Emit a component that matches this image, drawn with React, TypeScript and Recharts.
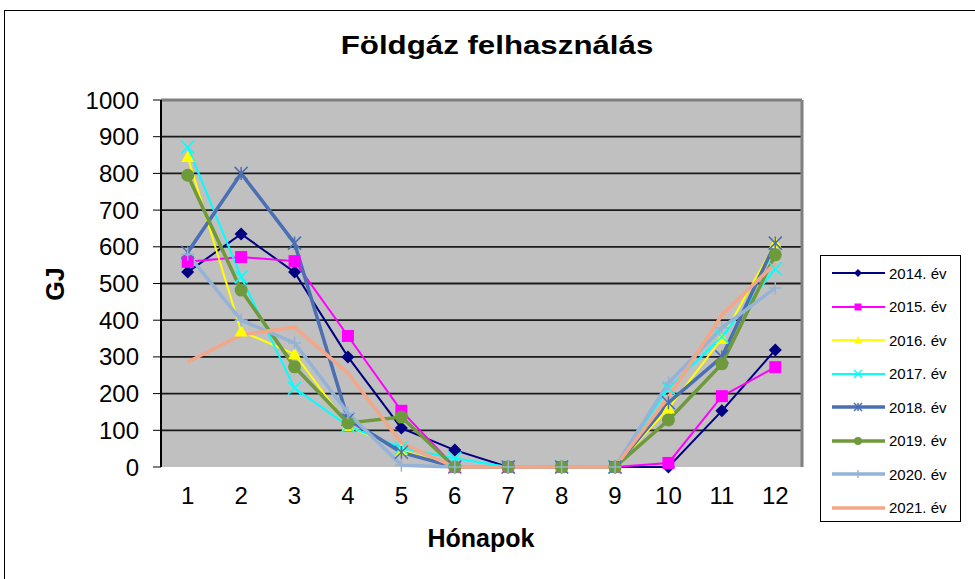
import { LineChart, Line, XAxis, YAxis, CartesianGrid, ReferenceLine } from "recharts"

const months = [1, 2, 3, 4, 5, 6, 7, 8, 9, 10, 11, 12]
const boundaryTicks = [0.5, 1.5, 2.5, 3.5, 4.5, 5.5, 6.5, 7.5, 8.5, 9.5, 10.5, 11.5, 12.5]
const yTicks = [0, 100, 200, 300, 400, 500, 600, 700, 800, 900, 1000]
const gridValues = [100, 200, 300, 400, 500, 600, 700, 800, 900]

const y2014 = [531, 635, 531, 300, 106, 46, 0, 0, 0, 0, 153, 319]
const y2015 = [559, 572, 561, 357, 153, 0, 0, 0, 0, 11, 193, 272]
const y2016 = [845, 370, 308, 112, 46, 0, 0, 0, 0, 160, 350, 610]
const y2017 = [872, 518, 215, 112, 52, 24, 0, 0, 0, 215, 355, 540]
const y2018 = [585, 800, 610, 130, 40, 0, 0, 0, 0, 175, 300, 610]
const y2019 = [795, 482, 273, 120, 136, 0, 0, 0, 0, 128, 281, 578]
const y2020 = [580, 400, 338, 147, 5, 0, 0, 0, 0, 229, 379, 488]
const y2021 = [286, 360, 381, 256, 65, 0, 0, 0, 0, 190, 414, 555]

const series = [
  { key: "y2014", name: "2014. év", values: y2014, color: "#000080", width: 2, marker: "diamond" },
  { key: "y2015", name: "2015. év", values: y2015, color: "#ff00ff", width: 2, marker: "square" },
  { key: "y2016", name: "2016. év", values: y2016, color: "#ffff00", width: 2, marker: "triangle" },
  { key: "y2017", name: "2017. év", values: y2017, color: "#00ffff", width: 2, marker: "x" },
  { key: "y2018", name: "2018. év", values: y2018, color: "#4a6fb3", width: 3.5, marker: "star" },
  { key: "y2019", name: "2019. év", values: y2019, color: "#6e9a3c", width: 3.5, marker: "circle" },
  { key: "y2020", name: "2020. év", values: y2020, color: "#95b3d7", width: 3.5, marker: "plus" },
  { key: "y2021", name: "2021. év", values: y2021, color: "#f4a688", width: 3.5, marker: "none" },
]

const data = months.map((m, i) => {
  const row: Record<string, number> = { month: m }
  series.forEach((s) => {
    row[s.key] = s.values[i]
  })
  return row
})

const FONT = "'Liberation Sans', Arial, sans-serif"

function Marker({ cx, cy, type, color, size = 6.5 }: { cx: number; cy: number; type: string; color: string; size?: number }) {
  const s = size
  switch (type) {
    case "diamond":
      return <polygon points={`${cx},${cy - s} ${cx + s},${cy} ${cx},${cy + s} ${cx - s},${cy}`} fill={color} />
    case "square":
      return <rect x={cx - s + 0.5} y={cy - s + 0.5} width={2 * s - 1} height={2 * s - 1} fill={color} />
    case "triangle":
      return <polygon points={`${cx},${cy - s} ${cx + s},${cy + s * 0.8} ${cx - s},${cy + s * 0.8}`} fill={color} />
    case "x":
      return (
        <g stroke={color} strokeWidth={1.5}>
          <line x1={cx - s} y1={cy - s} x2={cx + s} y2={cy + s} />
          <line x1={cx - s} y1={cy + s} x2={cx + s} y2={cy - s} />
        </g>
      )
    case "star":
      return (
        <g stroke={color} strokeWidth={1.5}>
          <line x1={cx - s} y1={cy - s} x2={cx + s} y2={cy + s} />
          <line x1={cx - s} y1={cy + s} x2={cx + s} y2={cy - s} />
          <line x1={cx} y1={cy - s} x2={cx} y2={cy + s} />
        </g>
      )
    case "circle":
      return <circle cx={cx} cy={cy} r={s} fill={color} />
    case "plus":
      return (
        <g stroke={color} strokeWidth={1.5}>
          <line x1={cx - s} y1={cy} x2={cx + s} y2={cy} />
          <line x1={cx} y1={cy - s} x2={cx} y2={cy + s} />
        </g>
      )
    default:
      return <g />
  }
}

function ChartLegend() {
  return (
    <div
      style={{
        position: "absolute",
        left: 820,
        top: 255,
        width: 141,
        height: 267,
        border: "1px solid #000",
        background: "#fff",
        boxSizing: "border-box",
        fontFamily: FONT,
        fontSize: 15,
        color: "#000",
      }}
    >
      {series.map((s, i) => (
        <div key={s.key} style={{ position: "absolute", left: 9, top: 8 + i * 33.5, height: 18, display: "flex", alignItems: "center" }}>
          <svg width={56} height={18} style={{ display: "block" }}>
            <line x1={2} y1={9} x2={55} y2={9} stroke={s.color} strokeWidth={s.width} />
            <Marker cx={28} cy={9} type={s.marker} color={s.color} size={4} />
          </svg>
          <span style={{ marginLeft: 3, whiteSpace: "nowrap" }}>{s.name}</span>
        </div>
      ))}
    </div>
  )
}

export default function App() {
  return (
    <div style={{ position: "absolute", left: 0, top: 0, width: 975, height: 579, overflow: "hidden", background: "#fff" }}>
      <div
        style={{
          position: "absolute",
          left: 4,
          top: 10,
          width: 1000,
          height: 600,
          borderLeft: "1px solid #000",
          borderTop: "1px solid #000",
        }}
      />
      <div
        style={{
          position: "absolute",
          left: 497,
          top: 45,
          transform: "translate(-50%, -50%) scaleX(1.25)",
          fontFamily: FONT,
          fontWeight: "bold",
          fontSize: 25,
          color: "#000",
          whiteSpace: "nowrap",
        }}
      >
        Földgáz felhasználás
      </div>
      <div style={{ position: "absolute", left: 0, top: 0 }}>
        <LineChart width={975} height={579} data={data} margin={{ top: 100, right: 173, bottom: 82, left: 101 }}>
          <CartesianGrid
            xAxisId="m"
            vertical={false}
            horizontalValues={gridValues}
            fill="#c0c0c0"
            fillOpacity={1}
            stroke="#1a1a1a"
            strokeWidth={1.8}
          />
          <XAxis
            xAxisId="b"
            type="number"
            dataKey="month"
            domain={[0.5, 12.5]}
            ticks={boundaryTicks}
            interval={0}
            height={0}
            tickFormatter={() => ""}
            tickSize={7}
            tickLine={{ stroke: "#000", strokeWidth: 1 }}
            axisLine={{ stroke: "#000", strokeWidth: 2 }}
          />
          <XAxis
            xAxisId="m"
            type="number"
            dataKey="month"
            domain={[0.5, 12.5]}
            ticks={months}
            interval={0}
            height={30}
            axisLine={false}
            tickLine={false}
            tickMargin={14}
            tick={{ fill: "#000", fontSize: 24, fontFamily: FONT }}
          />
          <YAxis
            type="number"
            domain={[0, 1000]}
            ticks={yTicks}
            interval={0}
            width={60}
            tickSize={8}
            tickMargin={14}
            tick={{ fill: "#000", fontSize: 24, fontFamily: FONT }}
            tickLine={{ stroke: "#000" }}
            axisLine={{ stroke: "#000", strokeWidth: 2 }}
          />
          <ReferenceLine xAxisId="m" y={1000} stroke="#808080" strokeWidth={3} />
          <ReferenceLine xAxisId="m" x={12.5} stroke="#808080" strokeWidth={3} />
          {series.map((s) => (
            <Line
              key={s.key}
              xAxisId="m"
              type="linear"
              dataKey={s.key}
              name={s.name}
              stroke={s.color}
              strokeWidth={s.width}
              isAnimationActive={false}
              activeDot={false}
              dot={(p: any) => <Marker key={`${s.key}-${p.index}`} cx={p.cx} cy={p.cy} type={s.marker} color={s.color} />}
            />
          ))}
        </LineChart>
      </div>
      <div
        style={{
          position: "absolute",
          left: 55,
          top: 284,
          transform: "translate(-50%, -50%) rotate(-90deg)",
          fontFamily: FONT,
          fontWeight: "bold",
          fontSize: 25,
          color: "#000",
        }}
      >
        GJ
      </div>
      <div
        style={{
          position: "absolute",
          left: 481,
          top: 538,
          transform: "translate(-50%, -50%)",
          fontFamily: FONT,
          fontWeight: "bold",
          fontSize: 25,
          color: "#000",
          whiteSpace: "nowrap",
        }}
      >
        Hónapok
      </div>
      <ChartLegend />
    </div>
  )
}
